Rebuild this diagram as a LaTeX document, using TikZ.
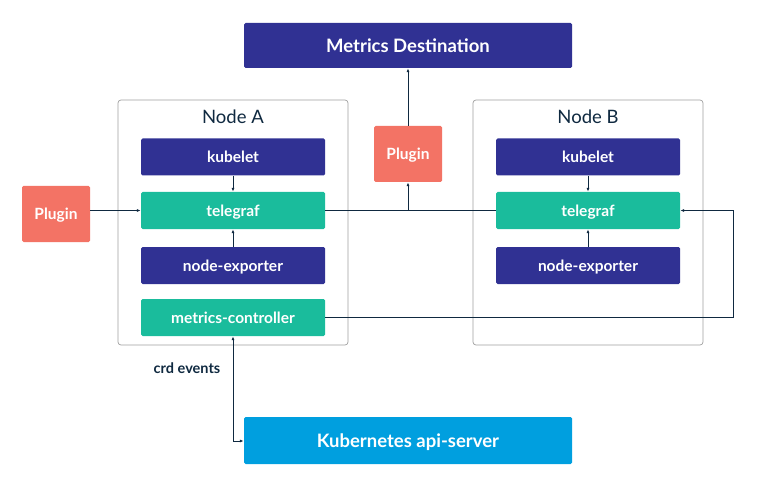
\documentclass[tikz,border=0pt]{standalone}
\usepackage{fontspec}
\setmainfont{Lato}
\usetikzlibrary{arrows.meta}
\definecolor{navy}{HTML}{303193}
\definecolor{teal}{HTML}{1ABC9C}
\definecolor{salmon}{HTML}{F37365}
\definecolor{kblue}{HTML}{009FDF}
\definecolor{ink}{HTML}{0F2940}
\definecolor{frame}{HTML}{A0A0A0}
\tikzset{
  box/.style={rounded corners=1.5pt, text=white, font=\bfseries\fontsize{15.5}{17}\selectfont, inner sep=0pt, text height=11.2pt, text depth=0pt},
  navybox/.style={box, fill=navy, minimum width=184pt, minimum height=37pt},
  tealbox/.style={box, fill=teal, minimum width=184pt, minimum height=37pt},
  plugbox/.style={box, fill=salmon, minimum width=68pt, minimum height=56pt},
  widebox/.style={box, fill=#1, minimum width=328pt, font=\bfseries\fontsize{18.5}{20}\selectfont, text height=13.3pt},
  hostframe/.style={draw=frame, rounded corners=3pt, line width=0.7pt, minimum width=230pt, minimum height=245pt, inner sep=0pt},
  hosttitle/.style={text=ink, font=\fontsize{18.5}{20}\selectfont, text height=13.3pt, text depth=0pt, inner sep=0pt},
  conn/.style={draw=ink, line width=0.8pt, -{Latex[length=4pt,width=3pt]}},
  plainconn/.style={draw=ink, line width=0.8pt},
}
\begin{document}
\begin{tikzpicture}[x=1pt,y=-1pt]
\useasboundingbox (0,0) rectangle (761,484);
% host frames
\node[hostframe] (frameA) at (233,222.5) {};
\node[hostframe] (frameB) at (588,222.5) {};
\node[hosttitle] (titleA) at (233,117) {Node A};
\node[hosttitle] (titleB) at (588,117) {Node B};
% top / bottom
\node[widebox=navy, minimum height=45pt] (dest) at (408,45.5) {Metrics Destination};
\node[widebox=kblue, minimum height=47pt] (api) at (408,440.5) {Kubernetes api-server};
% Node A
\node[navybox] (kubeA) at (233,157) {kubelet};
\node[tealbox] (telA) at (233,210.5) {telegraf};
\node[navybox] (neA) at (233,265.5) {node-exporter};
\node[tealbox] (mc) at (233,317.5) {metrics-controller};
% Node B
\node[navybox] (kubeB) at (588,157) {kubelet};
\node[tealbox] (telB) at (588,210.5) {telegraf};
\node[navybox] (neB) at (588,265.5) {node-exporter};
% plugins
\node[plugbox] (plugL) at (56,214) {Plugin};
\node[plugbox] (plugM) at (408,154) {Plugin};
% helper coordinates
\coordinate (junc) at (408,210.5);
\coordinate (rcorner1) at (733,317.5);
\coordinate (rcorner2) at (733,210.5);
\coordinate (bcorner) at (233,441);
% connectors
\draw[conn] (plugL.east |- telA.west) -- (telA.west);
\draw[conn] (kubeA) -- (telA);
\draw[conn] (neA) -- (telA);
\draw[conn] (kubeB) -- (telB);
\draw[conn] (neB) -- (telB);
\draw[plainconn] (telA.east) -- (telB.west);
\draw[conn] (junc) -- (plugM.south);
\draw[conn] (plugM.north) -- (dest.south);
\draw[conn] (mc.east) -- (rcorner1) -- (rcorner2) -- (telB.east);
\draw[draw=ink, line width=0.8pt, {Latex[length=4pt,width=3pt]}-{Latex[length=4pt,width=3pt]}] (mc.south) -- (bcorner) -- (api.west |- bcorner);
\node[text=ink, font=\bfseries\fontsize{14.5}{16}\selectfont, text height=10.4pt, text depth=0pt, inner sep=0pt] (crd) at (187,368) {crd events};
\end{tikzpicture}
\end{document}
